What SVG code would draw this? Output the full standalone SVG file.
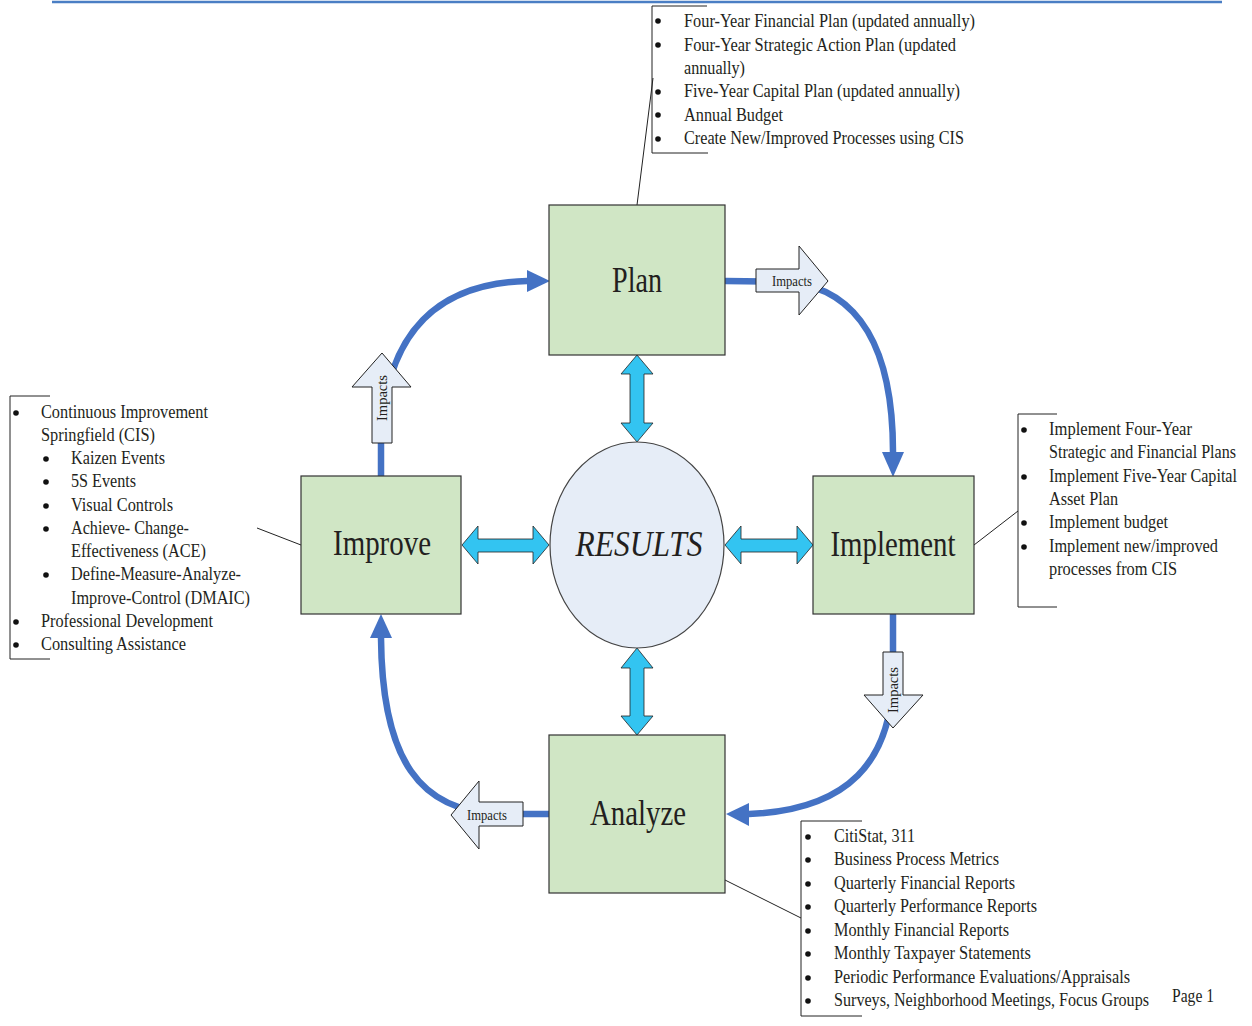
<svg xmlns="http://www.w3.org/2000/svg" width="1252" height="1026" viewBox="0 0 1252 1026">
<style>
.box{fill:#D0E6C5;stroke:#333;stroke-width:1.2}
.res{fill:#E6EDF7;stroke:#444;stroke-width:1.2}
.lbl{font-family:"Liberation Serif","Times New Roman",serif;font-size:35px;fill:#231f20;text-anchor:middle}
.t{font-family:"Liberation Serif","Times New Roman",serif;font-size:18px;fill:#231f20}
.imp{font-family:"Liberation Serif","Times New Roman",serif;font-size:14.5px;fill:#231f20;text-anchor:middle}
.blk{fill:#E6EDF7;stroke:#222;stroke-width:1}
.dbl{fill:#33C4F1;stroke:#222;stroke-width:0.8}
.conn{fill:none;stroke:#4472C4;stroke-width:6.5;stroke-linecap:round}
.head{fill:#4472C4}
.brk{fill:none;stroke:#222;stroke-width:1}
.lead{stroke:#222;stroke-width:1}
.bul{fill:#111}
</style>
<line x1="52" y1="2" x2="1222" y2="2" stroke="#4A7EC4" stroke-width="2.5"/>

<g id="connectors">
<path class="conn" d="M726,281 L790,282 C860,290 893,350 893,452"/>
<polygon class="head" points="882,452 904,452 893,477"/>
<path class="conn" d="M893,615 L893,680 C890,760 850,810 749,814"/>
<polygon class="head" points="749,803 749,826 726,814"/>
<path class="conn" d="M549,814 L500,814 C420,812 382,760 381,638"/>
<polygon class="head" points="370,638 392,638 381,614"/>
<path class="conn" d="M381,476 L381,440 C385,330 440,283 527,281"/>
<polygon class="head" points="527,270 527,292 550,281"/>

<polygon class="dbl" points="637,355 653,374 644,374 644,423 653,423 637,442 621,423 630,423 630,374 621,374"/>
<polygon class="dbl" points="637,648 653,668 644,668 644,716 653,716 637,735 621,716 630,716 630,668 621,668"/>
<polygon class="dbl" points="462,545 478,526 478,539 533,539 533,526 549,545 533,564 533,552 478,552 478,564"/>
<polygon class="dbl" points="725,545 741,526 741,539 797,539 797,526 813,545 797,564 797,552 741,552 741,564"/>

<g id="impacts-plan">
<polygon class="blk" points="756,269 799,269 799,246 828,281 799,315 799,292 756,292"/>
<text class="imp" x="792" y="286" textLength="40" lengthAdjust="spacingAndGlyphs">Impacts</text>
</g>
<g id="impacts-improve">
<polygon class="blk" points="372,443 372,387 352,387 382,353 411,387 392,387 392,443"/>
<text class="imp" x="387" y="398" transform="rotate(-90 387 398)" textLength="46" lengthAdjust="spacingAndGlyphs">Impacts</text>
</g>
<g id="impacts-implement">
<polygon class="blk" points="883,652 903,652 903,695 923,695 893,728 864,695 883,695"/>
<text class="imp" x="898" y="690" transform="rotate(-90 898 690)" textLength="46" lengthAdjust="spacingAndGlyphs">Impacts</text>
</g>
<g id="impacts-analyze">
<polygon class="blk" points="523,802 479,802 479,781 451,815 479,849 479,826 523,826"/>
<text class="imp" x="487" y="820" textLength="40" lengthAdjust="spacingAndGlyphs">Impacts</text>
</g>

<line class="lead" x1="637" y1="205" x2="653" y2="78"/>
<line class="lead" x1="257" y1="528" x2="301" y2="545"/>
<line class="lead" x1="974" y1="545" x2="1018" y2="511"/>
<line class="lead" x1="725" y1="880" x2="801" y2="918"/>
</g>

<g id="plan">
<rect class="box" x="549" y="205" width="176" height="150"/>
<text class="lbl" x="637" y="292" textLength="50" lengthAdjust="spacingAndGlyphs">Plan</text>
</g>
<g id="improve">
<rect class="box" x="301" y="476" width="160" height="138"/>
<text class="lbl" x="382" y="555" textLength="98" lengthAdjust="spacingAndGlyphs">Improve</text>
</g>
<g id="implement">
<rect class="box" x="813" y="476" width="161" height="138"/>
<text class="lbl" x="893" y="556" textLength="125" lengthAdjust="spacingAndGlyphs">Implement</text>
</g>
<g id="analyze">
<rect class="box" x="549" y="735" width="176" height="158"/>
<text class="lbl" x="638" y="825" textLength="96" lengthAdjust="spacingAndGlyphs">Analyze</text>
</g>
<g id="results">
<ellipse class="res" cx="637" cy="545" rx="87" ry="103"/>
<text class="lbl" x="639" y="556" font-style="italic" textLength="127" lengthAdjust="spacingAndGlyphs">RESULTS</text>
</g>

<g id="plan-notes">
<polyline class="brk" points="707,6 652,6 652,153 708,153"/>
<circle class="bul" cx="658" cy="21" r="2.8"/>
<circle class="bul" cx="658" cy="45" r="2.8"/>
<circle class="bul" cx="658" cy="92" r="2.8"/>
<circle class="bul" cx="658" cy="115" r="2.8"/>
<circle class="bul" cx="658" cy="139" r="2.8"/>
<text class="t" x="684" y="27" textLength="291" lengthAdjust="spacingAndGlyphs">Four-Year Financial Plan (updated annually)</text>
<text class="t" x="684" y="51" textLength="272" lengthAdjust="spacingAndGlyphs">Four-Year Strategic Action Plan (updated</text>
<text class="t" x="684" y="74" textLength="61" lengthAdjust="spacingAndGlyphs">annually)</text>
<text class="t" x="684" y="97" textLength="276" lengthAdjust="spacingAndGlyphs">Five-Year Capital Plan (updated annually)</text>
<text class="t" x="684" y="121" textLength="99" lengthAdjust="spacingAndGlyphs">Annual Budget</text>
<text class="t" x="684" y="144" textLength="280" lengthAdjust="spacingAndGlyphs">Create New/Improved Processes using CIS</text>
</g>

<g id="improve-notes">
<polyline class="brk" points="50,396 10,396 10,659 50,659"/>
<circle class="bul" cx="16" cy="413" r="2.8"/>
<circle class="bul" cx="46" cy="459" r="2.8"/>
<circle class="bul" cx="46" cy="482" r="2.8"/>
<circle class="bul" cx="46" cy="506" r="2.8"/>
<circle class="bul" cx="46" cy="529" r="2.8"/>
<circle class="bul" cx="46" cy="575" r="2.8"/>
<circle class="bul" cx="16" cy="622" r="2.8"/>
<circle class="bul" cx="16" cy="645" r="2.8"/>
<text class="t" x="41" y="418" textLength="167" lengthAdjust="spacingAndGlyphs">Continuous Improvement</text>
<text class="t" x="41" y="441" textLength="114" lengthAdjust="spacingAndGlyphs">Springfield (CIS)</text>
<text class="t" x="71" y="464" textLength="94" lengthAdjust="spacingAndGlyphs">Kaizen Events</text>
<text class="t" x="71" y="487" textLength="65" lengthAdjust="spacingAndGlyphs">5S Events</text>
<text class="t" x="71" y="511" textLength="102" lengthAdjust="spacingAndGlyphs">Visual Controls</text>
<text class="t" x="71" y="534" textLength="118" lengthAdjust="spacingAndGlyphs">Achieve- Change-</text>
<text class="t" x="71" y="557" textLength="135" lengthAdjust="spacingAndGlyphs">Effectiveness (ACE)</text>
<text class="t" x="71" y="580" textLength="170" lengthAdjust="spacingAndGlyphs">Define-Measure-Analyze-</text>
<text class="t" x="71" y="604" textLength="179" lengthAdjust="spacingAndGlyphs">Improve-Control (DMAIC)</text>
<text class="t" x="41" y="627" textLength="172" lengthAdjust="spacingAndGlyphs">Professional Development</text>
<text class="t" x="41" y="650" textLength="145" lengthAdjust="spacingAndGlyphs">Consulting Assistance</text>
</g>

<g id="implement-notes">
<polyline class="brk" points="1057,414 1018,414 1018,607 1057,607"/>
<circle class="bul" cx="1024" cy="430" r="2.8"/>
<circle class="bul" cx="1024" cy="477" r="2.8"/>
<circle class="bul" cx="1024" cy="523" r="2.8"/>
<circle class="bul" cx="1024" cy="547" r="2.8"/>
<text class="t" x="1049" y="435" textLength="143" lengthAdjust="spacingAndGlyphs">Implement Four-Year</text>
<text class="t" x="1049" y="458" textLength="187" lengthAdjust="spacingAndGlyphs">Strategic and Financial Plans</text>
<text class="t" x="1049" y="482" textLength="188" lengthAdjust="spacingAndGlyphs">Implement Five-Year Capital</text>
<text class="t" x="1049" y="505" textLength="69" lengthAdjust="spacingAndGlyphs">Asset Plan</text>
<text class="t" x="1049" y="528" textLength="119" lengthAdjust="spacingAndGlyphs">Implement budget</text>
<text class="t" x="1049" y="552" textLength="169" lengthAdjust="spacingAndGlyphs">Implement new/improved</text>
<text class="t" x="1049" y="575" textLength="128" lengthAdjust="spacingAndGlyphs">processes from CIS</text>
</g>

<g id="analyze-notes">
<polyline class="brk" points="862,821 801,821 801,1016 862,1016"/>
<circle class="bul" cx="808" cy="837" r="2.8"/>
<circle class="bul" cx="808" cy="860" r="2.8"/>
<circle class="bul" cx="808" cy="884" r="2.8"/>
<circle class="bul" cx="808" cy="907" r="2.8"/>
<circle class="bul" cx="808" cy="931" r="2.8"/>
<circle class="bul" cx="808" cy="954" r="2.8"/>
<circle class="bul" cx="808" cy="978" r="2.8"/>
<circle class="bul" cx="808" cy="1001" r="2.8"/>
<text class="t" x="834" y="842" textLength="81" lengthAdjust="spacingAndGlyphs">CitiStat, 311</text>
<text class="t" x="834" y="865" textLength="165" lengthAdjust="spacingAndGlyphs">Business Process Metrics</text>
<text class="t" x="834" y="889" textLength="181" lengthAdjust="spacingAndGlyphs">Quarterly Financial Reports</text>
<text class="t" x="834" y="912" textLength="203" lengthAdjust="spacingAndGlyphs">Quarterly Performance Reports</text>
<text class="t" x="834" y="936" textLength="175" lengthAdjust="spacingAndGlyphs">Monthly Financial Reports</text>
<text class="t" x="834" y="959" textLength="197" lengthAdjust="spacingAndGlyphs">Monthly Taxpayer Statements</text>
<text class="t" x="834" y="983" textLength="296" lengthAdjust="spacingAndGlyphs">Periodic Performance Evaluations/Appraisals</text>
<text class="t" x="834" y="1006" textLength="315" lengthAdjust="spacingAndGlyphs">Surveys, Neighborhood Meetings, Focus Groups</text>
</g>
<text class="t" x="1172" y="1002" textLength="42" lengthAdjust="spacingAndGlyphs">Page 1</text>
</svg>
